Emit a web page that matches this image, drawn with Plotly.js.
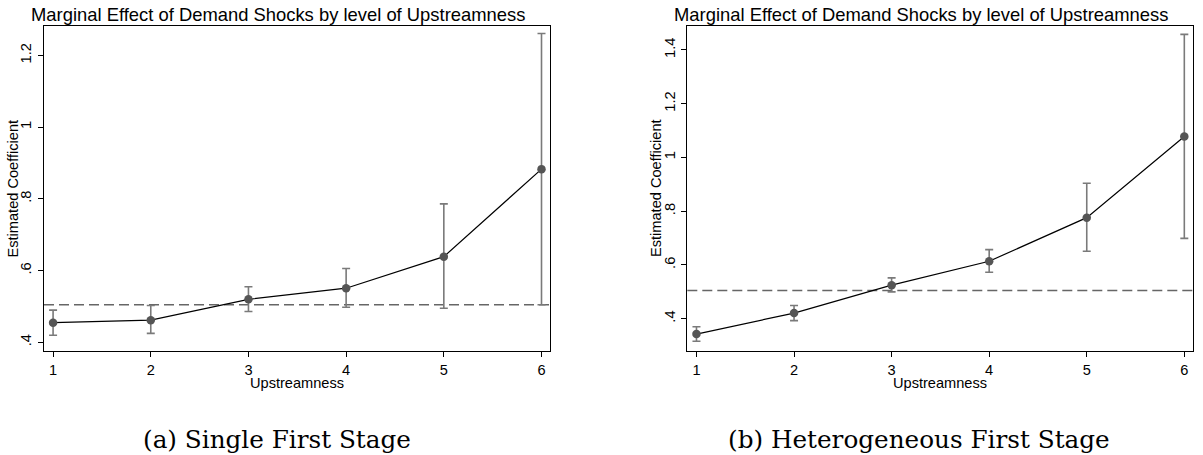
<!DOCTYPE html>
<html>
<head>
<meta charset="utf-8">
<script src="https://cdn.plot.ly/plotly-3.0.1.min.js"></script>
<style>
  html, body { margin: 0; padding: 0; background: #fff; }
  #chart { width: 1203px; height: 455px; }
</style>
</head>
<body>
<div id="chart"></div>
<script>
// upstreamness levels on the x axis
const upstreamness = [1, 2, 3, 4, 5, 6];

// (a) single first stage: point estimates and 95% CI bounds
const singleCoef = [0.455, 0.462, 0.520, 0.551, 0.639, 0.883];
const singleHi = [0.490, 0.503, 0.555, 0.606, 0.786, 1.261];
const singleLo = [0.420, 0.425, 0.486, 0.498, 0.495, 0.505];

// (b) heterogeneous first stage
const hetCoef = [0.343, 0.421, 0.525, 0.614, 0.776, 1.078];
const hetHi = [0.370, 0.449, 0.552, 0.657, 0.904, 1.458];
const hetLo = [0.316, 0.393, 0.500, 0.573, 0.651, 0.699];

// pooled (average) effect, dashed reference line
const pooledEffect = 0.505;

const yTickValsA = [0.4, 0.6, 0.8, 1, 1.2];
const yTickTextA = ['.4', '.6', '.8', '1', '1.2'];
const yTickValsB = [0.4, 0.6, 0.8, 1, 1.2, 1.4];
const yTickTextB = ['.4', '.6', '.8', '1', '1.2', '1.4'];

const chartTitle = 'Marginal Effect of Demand Shocks by level of Upstreamness';
const yTitle = 'Estimated Coefficient';
const xTitle = 'Upstreamness';
const captions = ['(a) Single First Stage', '(b) Heterogeneous First Stage'];

const W = 1203, H = 455;
const px = v => v / W;
const py = v => 1 - v / H;

const sans = 'Liberation Sans, Arial, sans-serif';

const panelTraces = (coef, hi, lo, xa, ya) => {
  return [{
    type: 'scatter',
    mode: 'markers',
    x: upstreamness,
    y: coef,
    xaxis: xa,
    yaxis: ya,
    marker: {size: 1, color: 'rgba(0,0,0,0)'},
    error_y: {
      type: 'data',
      symmetric: false,
      array: hi.map((h, i) => h - coef[i]),
      arrayminus: lo.map((l, i) => coef[i] - l),
      color: '#7a7a7a',
      thickness: 1.6,
      width: 4,
    },
    hoverinfo: 'skip',
    showlegend: false,
  }, {
    type: 'scatter',
    mode: 'lines+markers',
    x: upstreamness,
    y: coef,
    xaxis: xa,
    yaxis: ya,
    line: {color: '#000', width: 1.2},
    marker: {size: 8.5, color: '#555555'},
    showlegend: false,
  }];
};

const xAxis = (domain, range) => ({
  domain: domain,
  range: range,
  tickvals: upstreamness,
  ticks: 'outside',
  ticklen: 5,
  tickcolor: '#000',
  showline: true,
  mirror: true,
  linecolor: '#000',
  linewidth: 1,
  showgrid: false,
  zeroline: false,
  tickfont: {family: sans, size: 14.6, color: '#000'},
});

const yAxis = (anchor, range, vals, text, standoff) => ({
  anchor: anchor,
  domain: [py(351), py(26)],
  range: range,
  tickvals: vals,
  ticktext: text,
  tickangle: -90,
  ticklabelstandoff: standoff,
  ticks: 'outside',
  ticklen: 5,
  tickcolor: '#000',
  showline: true,
  mirror: true,
  linecolor: '#000',
  linewidth: 1,
  showgrid: false,
  zeroline: false,
  tickfont: {family: sans, size: 14.6, color: '#000'},
});

const textNote = (text, x, y, opts) => Object.assign({
  text: text,
  xref: 'paper',
  yref: 'paper',
  x: x,
  y: y,
  showarrow: false,
  font: {family: sans, size: 14.6, color: '#000'},
}, opts);

const dashLine = (xref, yref) => ({
  type: 'line',
  xref: xref + ' domain',
  yref: yref,
  x0: 0,
  x1: 1,
  y0: pooledEffect,
  y1: pooledEffect,
  line: {color: '#666', width: 1.3, dash: '10px,5px'},
  layer: 'below',
});

const data = [
  ...panelTraces(singleCoef, singleHi, singleLo, 'x', 'y'),
  ...panelTraces(hetCoef, hetHi, hetLo, 'x2', 'y2'),
];

const layout = {
  width: W,
  height: H,
  margin: {l: 0, r: 0, t: 0, b: 0},
  paper_bgcolor: '#fff',
  plot_bgcolor: '#fff',
  showlegend: false,
  xaxis: xAxis([px(44), px(550)], [0.907, 6.087]),
  yaxis: yAxis('x', [0.376, 1.282], yTickValsA, yTickTextA, 1),
  xaxis2: Object.assign(xAxis([px(687.3), px(1193.3)], [0.906, 6.092]), {anchor: 'y2'}),
  yaxis2: yAxis('x2', [0.280, 1.489], yTickValsB, yTickTextB, 0),
  shapes: [dashLine('x', 'y'), dashLine('x2', 'y2')],
  annotations: [
    textNote(chartTitle, px(29), py(14), {xanchor: 'left', yanchor: 'middle', font: {family: sans, size: 18.4, color: '#000'}}),
    textNote(chartTitle, px(671.7), py(14), {xanchor: 'left', yanchor: 'middle', font: {family: sans, size: 18.4, color: '#000'}}),
    textNote(yTitle, px(12), py(188.5), {textangle: -90, xanchor: 'center', yanchor: 'middle'}),
    textNote(yTitle, px(655.5), py(188.5), {textangle: -90, xanchor: 'center', yanchor: 'middle'}),
    textNote(xTitle, px(297), py(383), {xanchor: 'center', yanchor: 'middle'}),
    textNote(xTitle, px(940), py(383), {xanchor: 'center', yanchor: 'middle'}),
    textNote(captions[0], px(276.7), py(439), {xanchor: 'center', yanchor: 'middle', font: {family: 'DejaVu Serif, serif', size: 24.7, color: '#000'}}),
    textNote(captions[1], px(919), py(439), {xanchor: 'center', yanchor: 'middle', font: {family: 'DejaVu Serif, serif', size: 24.7, color: '#000'}}),
  ],
};

Plotly.newPlot('chart', data, layout, {staticPlot: true, displayModeBar: false});
</script>
</body>
</html>
